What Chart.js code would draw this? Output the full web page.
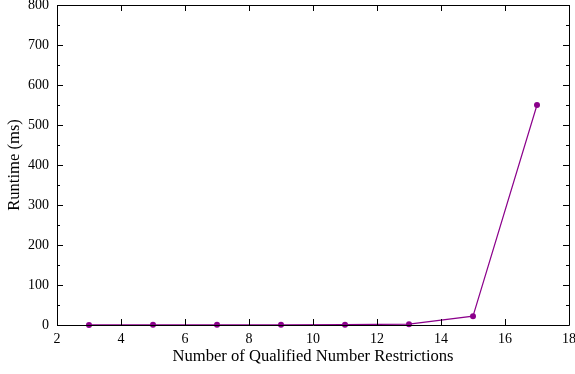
<!DOCTYPE html>
<html>
<head>
<meta charset="utf-8">
<script src="https://cdn.jsdelivr.net/npm/chart.js@4.4.1/dist/chart.umd.min.js"></script>
<style>
  html, body { margin: 0; padding: 0; background: #fff; }
  #wrap { width: 575px; height: 374px; }
</style>
</head>
<body>
<div id="wrap"><canvas id="c" width="575" height="374"></canvas></div>
<script>
// Runtime measured for each count of qualified number restrictions
const restrictions = [3, 5, 7, 9, 11, 13, 15, 17];
const runtimeMs = [0.3, 0.4, 0.5, 0.6, 0.8, 2, 22, 550];

const xTicks = [2, 4, 6, 8, 10, 12, 14, 16, 18];
const yTicks = [0, 100, 200, 300, 400, 500, 600, 700, 800];
const yMinorTicks = [50, 150, 250, 350, 450, 550, 650, 750];

const FONT = "'Liberation Serif', 'Times New Roman', serif";
const LINE_COLOR = '#8b008b';

// Frame around the plot area with inward ticks on all four sides
const framePlugin = {
  id: 'frame',
  afterDatasetsDraw(chart) {
    const { ctx, chartArea: a, scales } = chart;
    const xs = scales.x, ys = scales.y;
    ctx.save();
    ctx.strokeStyle = '#000';
    ctx.lineWidth = 1;
    ctx.beginPath();
    ctx.rect(Math.round(a.left) + 0.5, Math.round(a.top) + 0.5,
             Math.round(a.right - a.left), Math.round(a.bottom - a.top));
    ctx.stroke();
    ctx.beginPath();
    const major = 6, minor = 3;
    xTicks.forEach(v => {
      const px = Math.round(xs.getPixelForValue(v)) + 0.5;
      ctx.moveTo(px, a.bottom); ctx.lineTo(px, a.bottom - major);
      ctx.moveTo(px, a.top); ctx.lineTo(px, a.top + major);
    });
    yTicks.forEach(v => {
      const py = Math.round(ys.getPixelForValue(v)) + 0.5;
      ctx.moveTo(a.left, py); ctx.lineTo(a.left + major, py);
      ctx.moveTo(a.right, py); ctx.lineTo(a.right - major, py);
    });
    yMinorTicks.forEach(v => {
      const py = Math.round(ys.getPixelForValue(v)) + 0.5;
      ctx.moveTo(a.left, py); ctx.lineTo(a.left + minor, py);
      ctx.moveTo(a.right, py); ctx.lineTo(a.right - minor, py);
    });
    ctx.stroke();
    ctx.restore();
  }
};

// Keep the plot area fixed regardless of tick label overhang
function noOverhang(scale) {
  scale.paddingTop = 0;
  scale.paddingBottom = 0;
  scale.paddingLeft = 0;
  scale.paddingRight = 0;
}

new Chart(document.getElementById('c'), {
  type: 'line',
  data: {
    datasets: [{
      data: restrictions.map((x, i) => ({ x, y: runtimeMs[i] })),
      borderColor: LINE_COLOR,
      backgroundColor: LINE_COLOR,
      borderWidth: 1.2,
      pointRadius: 3,
      pointBorderWidth: 0,
      pointBackgroundColor: LINE_COLOR,
      tension: 0,
      clip: false
    }]
  },
  options: {
    responsive: false,
    animation: false,
    layout: { padding: { left: 0, right: 6, top: 5, bottom: 0 } },
    plugins: { legend: { display: false }, tooltip: { enabled: false } },
    scales: {
      x: {
        type: 'linear',
        min: 2, max: 18,
        afterBuildTicks(scale) { scale.ticks = xTicks.map(v => ({ value: v })); },
        afterFit(scale) { scale.height = 49; noOverhang(scale); },
        grid: { display: false, drawTicks: false },
        border: { display: false },
        ticks: { color: '#000', padding: 6, maxRotation: 0, font: { family: FONT, size: 14 } },
        title: {
          display: true,
          text: 'Number of Qualified Number Restrictions',
          color: '#000',
          padding: { top: 0, bottom: 7 },
          font: { family: FONT, size: 16.6 }
        }
      },
      y: {
        type: 'linear',
        min: 0, max: 800,
        afterBuildTicks(scale) { scale.ticks = yTicks.map(v => ({ value: v })); },
        afterFit(scale) { scale.width = 57; noOverhang(scale); },
        grid: { display: false, drawTicks: false },
        border: { display: false },
        ticks: { color: '#000', padding: 8, font: { family: FONT, size: 14 } },
        title: {
          display: true,
          text: 'Runtime (ms)',
          color: '#000',
          padding: { top: 5, bottom: 0 },
          font: { family: FONT, size: 16.6 }
        }
      }
    }
  },
  plugins: [framePlugin]
});
</script>
</body>
</html>
